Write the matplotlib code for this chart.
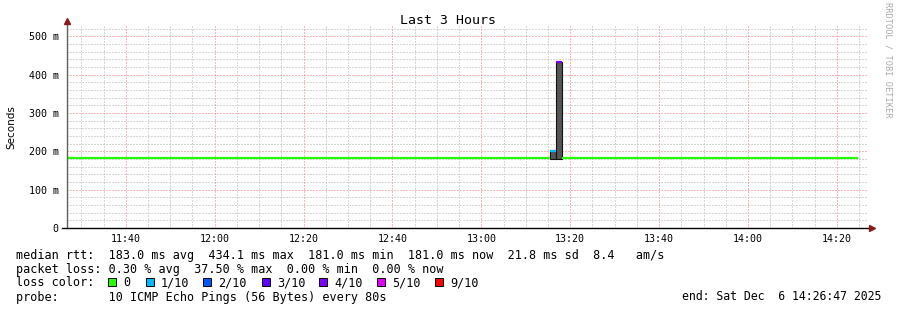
import numpy as np
import matplotlib
matplotlib.use('Agg')
import matplotlib.pyplot as plt
from matplotlib.patches import Rectangle

# time is minutes after 11:26:47 (3 hour window ending 14:26:47)
seg_start = [0.0, 108.7, 110.05, 111.4]
seg_end = [108.7, 110.05, 111.4, 178.0]
median_ms = [182, 201, 434, 182]
seg_loss = ['0', '1/10', '4/10', '0']

# smoke (spread of the pings) around the spike
smoke_start = [108.7, 110.05]
smoke_end = [110.05, 111.4]
smoke_lo = [181, 181]
smoke_hi = [201, 434]

loss_labels = ['0', '1/10', '2/10', '3/10', '4/10', '5/10', '9/10']
loss_colors = ['#26ff00', '#00b8ff', '#0059ff', '#5e00ff', '#7e00ff', '#dd00ff', '#ff0000']

time_labels = ['11:40', '12:00', '12:20', '12:40', '13:00', '13:20', '13:40', '14:00', '14:20']
first_tick = 13 + 13 / 60.0   # 11:40:00 in minutes after start
y_ticks = [0, 100, 200, 300, 400, 500]
y_labels = ['0', '100 m', '200 m', '300 m', '400 m', '500 m']

title = 'Last 3 Hours'
rtt_line = 'median rtt:  183.0 ms avg  434.1 ms max  181.0 ms min  181.0 ms now  21.8 ms sd  8.4   am/s'
loss_line = 'packet loss: 0.30 % avg  37.50 % max  0.00 % min  0.00 % now'
probe_line = 'probe:       10 ICMP Echo Pings (56 Bytes) every 80s'
end_line = 'end: Sat Dec  6 14:26:47 2025'

MONO = 'DejaVu Sans Mono'
W, H = 897, 310

fig = plt.figure(figsize=(W / 100, H / 100), dpi=100)
ax = fig.add_axes([67 / W, (H - 228) / H, 800 / W, 202 / H])
ax.set_xlim(0, 180)
ax.set_ylim(0, 527)

# grid (minor positions skip the major ones)
major_x = [first_tick + 20 * i for i in range(len(time_labels))]
minor_x = [first_tick - 10 + 5 * i for i in range(36) if i % 4 != 2]
ax.set_xticks(major_x)
ax.set_xticklabels(time_labels)
ax.set_xticks(minor_x, minor=True)
ax.set_yticks(y_ticks)
ax.set_yticklabels(y_labels)
ax.set_yticks([v for v in range(20, 527, 20) if v % 100], minor=True)
ax.grid(which='minor', color='#b0b0b0', linestyle=(0, (1, 2)), linewidth=0.72, zorder=0)
ax.grid(which='major', color='#f07070', linestyle=(0, (1, 2)), linewidth=0.72, zorder=0)
ax.set_axisbelow(True)
ax.tick_params(which='both', length=0)
ax.tick_params(axis='x', pad=4, labelsize=7.2)
ax.tick_params(axis='y', pad=6, labelsize=7.2)
for lbl in ax.get_xticklabels() + ax.get_yticklabels():
    lbl.set_family(MONO)
for s in ax.spines.values():
    s.set_visible(False)

# smoke and median
ax.bar(smoke_start, np.array(smoke_hi) - np.array(smoke_lo),
       width=np.array(smoke_end) - np.array(smoke_start), bottom=smoke_lo,
       align='edge', color='#555555', edgecolor='#111111', linewidth=0.8, zorder=3)
color_of = dict(zip(loss_labels, loss_colors))
ax.hlines(median_ms, seg_start, seg_end, colors=[color_of[l] for l in seg_loss],
          linewidth=1.6, zorder=4)

# axes with arrows
ax.plot([0, 0], [0, 1.02], transform=ax.transAxes, color='#606060', lw=1, clip_on=False, zorder=5)
ax.plot([-0.006, 1.004], [0, 0], transform=ax.transAxes, color='#000000', lw=1, clip_on=False, zorder=5)
ax.plot([0], [1.025], marker='^', ms=5, color='#8b1a1a', transform=ax.transAxes, clip_on=False, zorder=6)
ax.plot([1.006], [0], marker='>', ms=5, color='#8b1a1a', transform=ax.transAxes, clip_on=False, zorder=6)

ax.set_ylabel('Seconds', fontsize=7.5, labelpad=9)
fig.text(448 / W, 1 - 20 / H, title, family=MONO, fontsize=9.5, ha='center', va='center')
fig.text(888 / W, 1 - 60 / H, 'RRDTOOL / TOBI OETIKER', family=MONO, fontsize=6.2,
         color='#aaaaaa', rotation=270, ha='center', va='center')

# legend / stats block
fs = 8.45
fig.text(16 / W, 1 - 255 / H, rtt_line, family=MONO, fontsize=fs, va='center')
fig.text(16 / W, 1 - 269 / H, loss_line, family=MONO, fontsize=fs, va='center')
fig.text(16 / W, 1 - 283 / H, 'loss color:', family=MONO, fontsize=fs, va='center')
fig.text(16 / W, 1 - 297 / H, probe_line, family=MONO, fontsize=fs, va='center')
fig.text(881 / W, 1 - 297 / H, end_line, family=MONO, fontsize=8.3, va='center', ha='right')

box_x = [108, 146, 203, 262, 319, 377, 435]
for bx, lab, col in zip(box_x, loss_labels, loss_colors):
    fig.add_artist(Rectangle((bx / W, 1 - 285.5 / H), 8 / W, 8 / H, transform=fig.transFigure,
                             facecolor=col, edgecolor='black', linewidth=0.7))
    fig.text((bx + 15) / W, 1 - 283 / H, lab, family=MONO, fontsize=fs, va='center')

fig.savefig('out.png', dpi=100, facecolor='white')
